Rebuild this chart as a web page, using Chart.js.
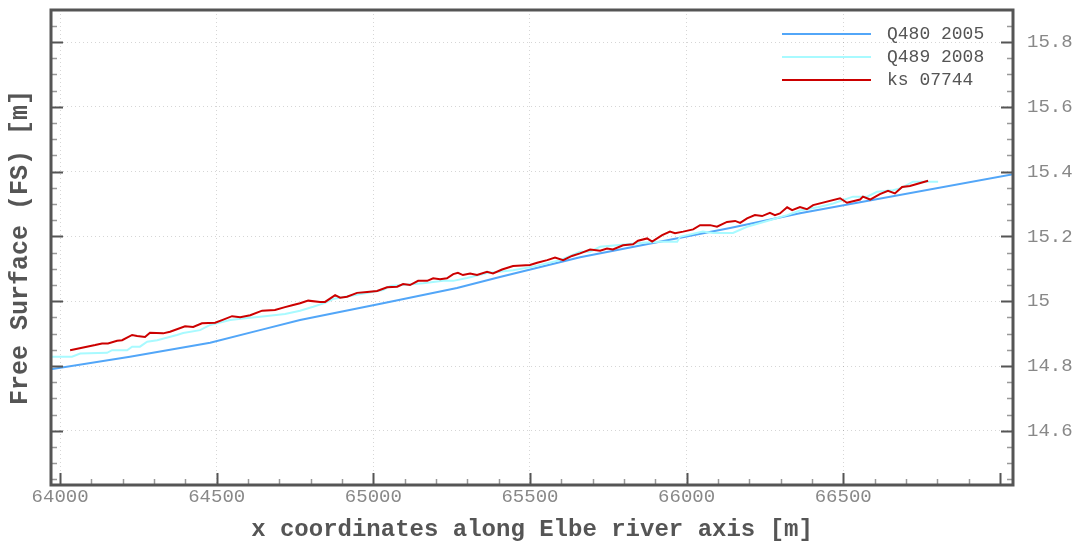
<!DOCTYPE html>
<html>
<head>
<meta charset="utf-8">
<script src="https://cdn.jsdelivr.net/npm/chart.js@4.4.1/dist/chart.umd.min.js"></script>
<style>
  html, body { margin: 0; padding: 0; background: #fff; }
  #wrap { width: 1078px; height: 544px; position: relative; }
</style>
</head>
<body>
<div id="wrap"><canvas id="chart"></canvas></div>
<script>
// values
const q480X = [63968, 64223, 64479, 64638, 64766, 65031, 65267, 65404, 65660, 66139, 66362, 67046];
const q480Y = [14.790, 14.829, 14.872, 14.911, 14.942, 14.994, 15.041, 15.075, 15.136, 15.226, 15.272, 15.393];

const q489X = [63968, 64038, 64064, 64150, 64166, 64214, 64230, 64255, 64278, 64310, 64373, 64393, 64447, 64479,
  64520, 64543, 64591, 64654, 64718, 64766, 64808, 64846, 64871, 65031, 65054, 65159, 65223, 65255, 65299, 65363,
  65446, 65510, 65596, 65660, 65692, 65724, 65861, 65915, 65970, 65979, 66052, 66084, 66148, 66193, 66257, 66321,
  66362, 66426, 66468, 66531, 66576, 66608, 66659, 66681, 66723, 66803];
const q489Y = [14.829, 14.829, 14.839, 14.841, 14.849, 14.849, 14.860, 14.860, 14.875, 14.880, 14.896, 14.902, 14.911, 14.927,
  14.937, 14.942, 14.948, 14.954, 14.961, 14.971, 14.983, 14.995, 15.007, 15.035, 15.047, 15.056, 15.063, 15.063, 15.072, 15.087,
  15.096, 15.107, 15.127, 15.153, 15.153, 15.168, 15.181, 15.184, 15.184, 15.199, 15.215, 15.211, 15.211, 15.230, 15.248, 15.266,
  15.280, 15.292, 15.302, 15.323, 15.323, 15.338, 15.343, 15.348, 15.369, 15.369];

const ksX = [64032, 64112, 64134, 64153, 64182, 64198, 64230, 64246, 64271, 64287, 64329, 64351, 64399, 64425, 64453,
  64495, 64517, 64549, 64575, 64607, 64645, 64686, 64718, 64741, 64766, 64792, 64830, 64846, 64878, 64894, 64916,
  64948, 64980, 65012, 65044, 65076, 65095, 65117, 65143, 65172, 65191, 65213, 65235, 65255, 65270, 65286, 65309,
  65331, 65363, 65382, 65411, 65446, 65500, 65523, 65555, 65580, 65606, 65634, 65660, 65692, 65724, 65746, 65765,
  65797, 65829, 65845, 65874, 65890, 65922, 65947, 65963, 65989, 66021, 66043, 66075, 66097, 66129, 66155, 66171,
  66193, 66218, 66241, 66266, 66282, 66298, 66321, 66337, 66362, 66384, 66404, 66490, 66512, 66554, 66563, 66586,
  66617, 66643, 66665, 66688, 66713, 66771];
const ksY = [14.849, 14.865, 14.870, 14.870, 14.878, 14.880, 14.896, 14.893, 14.890, 14.903, 14.901, 14.906, 14.923, 14.921, 14.932,
  14.934, 14.942, 14.954, 14.951, 14.957, 14.971, 14.973, 14.982, 14.988, 14.994, 15.002, 14.998, 14.998, 15.019, 15.011, 15.014,
  15.026, 15.029, 15.032, 15.043, 15.045, 15.053, 15.050, 15.063, 15.063, 15.071, 15.068, 15.071, 15.084, 15.088, 15.081, 15.086,
  15.081, 15.091, 15.086, 15.098, 15.109, 15.112, 15.119, 15.127, 15.135, 15.127, 15.140, 15.148, 15.160, 15.156, 15.163, 15.160,
  15.173, 15.176, 15.187, 15.194, 15.184, 15.204, 15.215, 15.210, 15.215, 15.222, 15.235, 15.235, 15.230, 15.245, 15.248, 15.242,
  15.256, 15.266, 15.263, 15.273, 15.266, 15.271, 15.290, 15.281, 15.291, 15.284, 15.297, 15.318, 15.304, 15.314, 15.323, 15.314,
  15.331, 15.341, 15.333, 15.353, 15.356, 15.372];

const seriesNames = ['Q480 2005', 'Q489 2008', 'ks 07744'];
const xTicks = [64000, 64500, 65000, 65500, 66000, 66500];
const yTicks = [14.6, 14.8, 15, 15.2, 15.4, 15.6, 15.8];
const xRange = [63971, 67042];
const yRange = [14.433, 15.899];

const MONO = "'Liberation Mono', 'DejaVu Sans Mono', monospace";
const colors = ['rgb(82,166,248)', 'rgb(168,250,255)', 'rgb(204,0,0)'];

const toPoints = (xs, ys) => xs.map((x, i) => ({ x: x, y: ys[i] }));

// legend line sample with a bit of blank space after it
function swatch(color) {
    const c = document.createElement('canvas');
    c.width = 96;
    c.height = 4;
    const g = c.getContext('2d');
    g.strokeStyle = color;
    g.lineWidth = 2;
    g.beginPath();
    g.moveTo(0, 2);
    g.lineTo(89, 2);
    g.stroke();
    return c;
}
const swatches = colors.map(swatch);

// inward ticks + frame around the plot
const frameTicks = {
    id: 'frameTicks',
    afterDatasetsDraw(chart) {
        const { ctx, chartArea: a, scales } = chart;
        const x = scales.x, y = scales.y;
        ctx.save();

        for (let v = Math.ceil(xRange[0] / 100) * 100; v <= xRange[1]; v += 100) {
            const px = Math.round(x.getPixelForValue(v)) + 0.5;
            const major = v % 500 === 0;
            ctx.strokeStyle = major ? '#555' : '#999';
            ctx.lineWidth = major ? 2 : 1.5;
            ctx.beginPath();
            ctx.moveTo(px, a.bottom);
            ctx.lineTo(px, a.bottom - (major ? 12 : 6));
            ctx.stroke();
        }

        const k0 = Math.ceil(yRange[0] / 0.05 - 1e-6);
        const k1 = Math.floor(yRange[1] / 0.05 + 1e-6);
        for (let k = k0; k <= k1; k++) {
            const py = Math.round(y.getPixelForValue(k * 0.05)) + 0.5;
            const major = k % 4 === 0;
            const len = major ? 12 : 6;
            ctx.strokeStyle = major ? '#555' : '#999';
            ctx.lineWidth = major ? 2 : 1.5;
            ctx.beginPath();
            ctx.moveTo(a.left, py);
            ctx.lineTo(a.left + len, py);
            ctx.moveTo(a.right, py);
            ctx.lineTo(a.right - len, py);
            ctx.stroke();
        }

        ctx.strokeStyle = '#555';
        ctx.lineWidth = 3;
        ctx.strokeRect(a.left, a.top, a.right - a.left, a.bottom - a.top);
        ctx.restore();
    }
};

// put the legend in the top right corner of the plot
const legendPlacer = {
    id: 'legendPlacer',
    afterLayout(chart) {
        const lg = chart.legend;
        const a = chart.chartArea;
        const pad = lg.options.labels.padding;
        lg.left = a.right - 231 - pad;
        lg.top = a.top + 15 - pad;
        lg.right = lg.left + lg.width;
        lg.bottom = lg.top + lg.height;
    }
};

const noPad = s => { s.paddingTop = 0; s.paddingBottom = 0; s.paddingLeft = 0; s.paddingRight = 0; };

const ctx = document.getElementById('chart').getContext('2d');

new Chart(ctx, {
    type: 'line',
    data: {
        datasets: [
            { label: seriesNames[0], data: toPoints(q480X, q480Y), borderColor: colors[0], order: 3 },
            { label: seriesNames[1], data: toPoints(q489X, q489Y), borderColor: colors[1], order: 2 },
            { label: seriesNames[2], data: toPoints(ksX, ksY), borderColor: colors[2], order: 1 }
        ]
    },
    options: {
        responsive: true,
        maintainAspectRatio: false,
        animation: false,
        parsing: false,
        layout: { padding: { top: 10, left: 0, right: 0, bottom: 0 } },
        elements: {
            line: { borderWidth: 2, tension: 0, fill: false },
            point: { radius: 0 }
        },
        plugins: {
            tooltip: { enabled: false },
            legend: {
                position: 'chartArea',
                align: 'start',
                labels: {
                    usePointStyle: true,
                    pointStyleWidth: 96,
                    padding: 5,
                    color: '#555',
                    font: { family: MONO, size: 18 },
                    sort: (a, b) => a.datasetIndex - b.datasetIndex,
                    generateLabels(chart) {
                        const items = Chart.defaults.plugins.legend.labels.generateLabels(chart);
                        items.forEach(it => { it.pointStyle = swatches[it.datasetIndex]; });
                        return items;
                    }
                }
            }
        },
        scales: {
            x: {
                type: 'linear',
                position: 'bottom',
                min: xRange[0],
                max: xRange[1],
                afterBuildTicks: s => { s.ticks = xTicks.map(v => ({ value: v })); },
                afterFit: s => { s.height = 59; noPad(s); },
                grid: { color: 'rgba(0,0,0,0.16)', drawTicks: false, lineWidth: 1 },
                border: { display: false, dash: [1, 3] },
                ticks: {
                    padding: 1,
                    color: '#888',
                    font: { family: MONO, size: 19 },
                    maxRotation: 0,
                    callback: v => String(v)
                },
                title: {
                    display: true,
                    text: 'x coordinates along Elbe river axis [m]',
                    color: '#555',
                    font: { family: MONO, size: 24, weight: 'bold' },
                    padding: { top: 0, bottom: 0 }
                }
            },
            y: {
                type: 'linear',
                position: 'right',
                min: yRange[0],
                max: yRange[1],
                afterBuildTicks: s => { s.ticks = yTicks.map(v => ({ value: v })); },
                afterFit: s => { s.width = 65; noPad(s); },
                grid: { color: 'rgba(0,0,0,0.16)', drawTicks: false, lineWidth: 1 },
                border: { display: false, dash: [1, 3] },
                ticks: {
                    padding: 14,
                    color: '#888',
                    font: { family: MONO, size: 19 },
                    callback: v => String(+v.toFixed(1))
                }
            },
            yl: {
                type: 'linear',
                position: 'left',
                min: yRange[0],
                max: yRange[1],
                afterFit: s => { s.width = 51; noPad(s); },
                grid: { display: false },
                border: { display: false },
                ticks: { display: false },
                title: {
                    display: true,
                    text: 'Free Surface (FS) [m]',
                    color: '#555',
                    font: { family: MONO, size: 25, weight: 'bold' },
                    padding: { top: 6, bottom: 0 }
                }
            }
        }
    },
    plugins: [frameTicks, legendPlacer]
});
</script>
</body>
</html>
